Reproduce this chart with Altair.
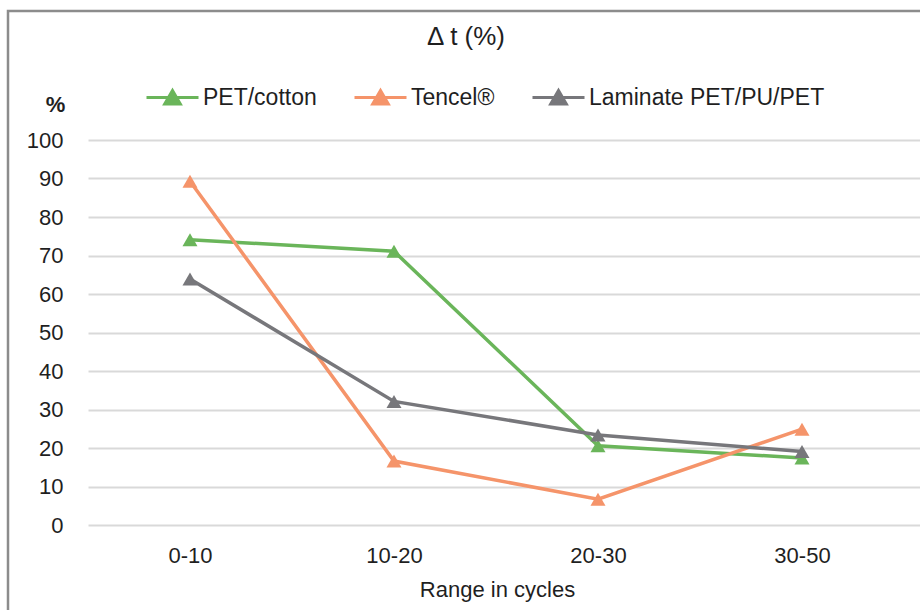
import altair as alt
import pandas as pd

categories = ["0-10", "10-20", "20-30", "30-50"]
series_names = ["PET/cotton", "Tencel®", "Laminate PET/PU/PET"]
pet_cotton = [74.1, 71.1, 20.6, 17.4]
tencel = [89.3, 16.6, 6.7, 24.9]
laminate = [63.9, 32.1, 23.4, 19.1]
colors = ["#6AB55A", "#F5946A", "#77777B"]
y_ticks = [0, 10, 20, 30, 40, 50, 60, 70, 80, 90, 100]
chart_title = "Δ t (%)"
x_title = "Range in cycles"
y_title = "%"

rows = []
for name, vals in zip(series_names, [pet_cotton, tencel, laminate]):
    for c, v in zip(categories, vals):
        rows.append({"range": c, "series": name, "value": v})
df = pd.DataFrame(rows)

FONT = "Liberation Sans"
TXT = "#1f1f1f"

x = alt.X(
    "range:N", sort=categories,
    scale=alt.Scale(padding=0.5392, align=0.4636),
    axis=alt.Axis(title=x_title, labelAngle=0, ticks=False, domain=False, grid=False,
                  labelPadding=20, titlePadding=13, titleX=409, titleAlign="center",
                  labelFont=FONT, labelFontSize=22,
                  labelColor=TXT, titleFont=FONT, titleFontSize=22, titleFontWeight="normal",
                  titleColor=TXT),
)
y = alt.Y(
    "value:Q", scale=alt.Scale(domain=[0, 100], nice=False),
    axis=alt.Axis(values=y_ticks, title=y_title, titleAngle=0, titleX=-33, titleY=-36,
                  titleAlign="center", titleBaseline="middle", titleFontWeight="bold",
                  titleFont=FONT, titleFontSize=22, titleColor=TXT,
                  ticks=False, domain=False, labelPadding=25, labelFont=FONT,
                  labelFontSize=22, labelColor=TXT, gridColor="#D9D9D9", gridWidth=2),
)
legend = alt.Legend(
    title=None, orient="none", legendX=57, legendY=-70, direction="horizontal",
    symbolType="M-1,0H1M0,-0.27L0.3,0.25L-0.3,0.25Z", symbolSize=2704,
    symbolStrokeWidth=3, labelFont=FONT, labelFontSize=23, labelColor=TXT,
    labelOffset=3, columnPadding=31, padding=0, symbolOpacity=1, labelLimit=500,
)
color = alt.Color("series:N", sort=series_names,
                  scale=alt.Scale(domain=series_names, range=colors), legend=legend)

base = alt.Chart(df)
lines = base.mark_line(strokeWidth=3.5).encode(x=x, y=y, color=color)
points = base.mark_point(shape="triangle-up", filled=True, size=225, opacity=1).encode(
    x=x, y=y, color=color)

frame = alt.Chart(pd.DataFrame({"a": [0]})).mark_rect(
    fillOpacity=0, stroke="#8C8C8C", strokeWidth=2.5
).encode(x=alt.value(-80), x2=alt.value(860), y=alt.value(-129), y2=alt.value(520))

title = alt.Chart(pd.DataFrame({"t": [chart_title]})).mark_text(
    font=FONT, fontSize=26, color=TXT, align="center", baseline="middle"
).encode(text="t:N", x=alt.value(378), y=alt.value(-103))

chart = alt.layer(frame, lines, points, title).properties(
    width=832, height=385,
    autosize=alt.AutoSizeParams(type="none"),
    padding={"left": 88, "top": 140, "right": 0, "bottom": 85},
).configure_view(stroke=None)

chart.save("out.html", embed_options={"renderer": "svg", "actions": False})
